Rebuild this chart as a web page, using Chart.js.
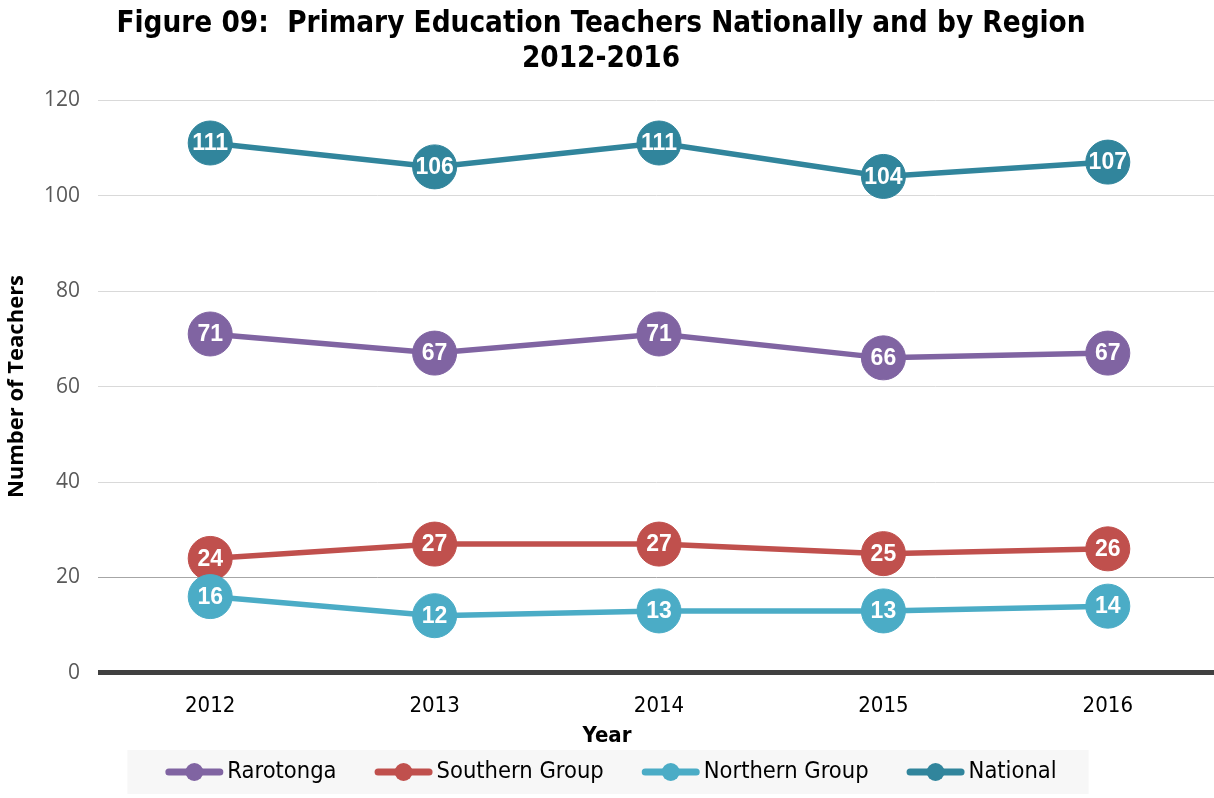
<!DOCTYPE html>
<html>
<head>
<meta charset="utf-8">
<script src="https://cdn.jsdelivr.net/npm/chart.js@4"></script>
<style>
html,body{margin:0;padding:0;background:#fff;}
#wrap{width:1214px;height:798px;}
</style>
</head>
<body>
<div id="wrap"><canvas id="c" width="1214" height="798"></canvas></div>
<script>
const titleLines = ["Figure 09:  Primary Education Teachers Nationally and by Region", "2012-2016"];
const years = ["2012", "2013", "2014", "2015", "2016"];
const seriesNames = ["Rarotonga", "Southern Group", "Northern Group", "National"];
const rarotonga = [71, 67, 71, 66, 67];
const southern = [24, 27, 27, 25, 26];
const northern = [16, 12, 13, 13, 14];
const national = [111, 106, 111, 104, 107];
const seriesColors = ["#8064A2", "#C0504D", "#4BACC6", "#31859C"];
const yTitle = "Number of Teachers";
const xTitle = "Year";

const condFont = '"DejaVu Sans Condensed", "DejaVu Sans", sans-serif';
const openFont = '"Open Sans", sans-serif';
const labelFont = '"Liberation Sans", Arial, sans-serif';

const seriesValues = [rarotonga, southern, northern, national];

// The plot area of the original runs a few pixels past the right edge of the picture.
const plotOverflowRight = 6;

const extendAreaPlugin = {
  id: 'extendArea',
  afterLayout(chart) {
    const area = chart.chartArea;
    const xs = chart.scales.x;
    const newRight = chart.width + plotOverflowRight;
    area.right = newRight;
    area.width = newRight - area.left;
    xs.right = newRight;
    xs.width = newRight - xs.left;
    xs.configure();
    // centre the x-axis title on the whole picture, as in the original
    if (!xs._origDrawTitle) {
      xs._origDrawTitle = xs.drawTitle;
      xs.drawTitle = function () {
        const l = this.left, r = this.right;
        this.left = 0; this.right = chart.width;
        this._origDrawTitle();
        this.left = l; this.right = r;
      };
    }
  }
};

const dataLabelPlugin = {
  id: 'dataLabels',
  afterDatasetDraw(chart, args) {
    const ctx = chart.ctx;
    const meta = args.meta;
    const ds = chart.data.datasets[args.index];
    ctx.save();
    ctx.font = 'bold 23px ' + labelFont;
    ctx.fillStyle = '#ffffff';
    ctx.textAlign = 'center';
    ctx.textBaseline = 'middle';
    meta.data.forEach((pt, i) => {
      ctx.fillText(String(ds.data[i]), pt.x, pt.y + 1);
    });
    ctx.restore();
  }
};

const legendPlugin = {
  id: 'customLegend',
  afterDraw(chart) {
    const ctx = chart.ctx;
    const markerW = 58, gap = 4, spacing = 38, cy = 772;
    ctx.save();
    ctx.font = '23.5px ' + condFont;
    const items = chart.data.datasets.map(ds => ({
      text: ds.label, color: ds.borderColor, w: markerW + gap + ctx.measureText(ds.label).width
    }));
    const total = items.reduce((s, it) => s + it.w, 0) + spacing * (items.length - 1);
    let x = 611 - total / 2;
    ctx.fillStyle = '#F7F7F7';
    ctx.fillRect(x - 38, 750, total + 38 + 32, 44);
    items.forEach(it => {
      ctx.strokeStyle = it.color;
      ctx.lineWidth = 7;
      ctx.lineCap = 'round';
      ctx.beginPath();
      ctx.moveTo(x + 3.5, cy);
      ctx.lineTo(x + markerW - 3.5, cy);
      ctx.stroke();
      ctx.fillStyle = it.color;
      ctx.beginPath();
      ctx.arc(x + markerW / 2, cy, 9, 0, Math.PI * 2);
      ctx.fill();
      ctx.fillStyle = '#000000';
      ctx.textAlign = 'left';
      ctx.textBaseline = 'middle';
      ctx.fillText(it.text, x + markerW + gap, cy);
      x += it.w + spacing;
    });
    ctx.restore();
  }
};

const datasets = seriesNames.map((name, i) => ({
  label: name,
  data: seriesValues[i],
  borderColor: seriesColors[i],
  backgroundColor: seriesColors[i],
  pointBackgroundColor: seriesColors[i],
  pointBorderColor: seriesColors[i],
  pointRadius: 22,
  pointHoverRadius: 22,
  pointBorderWidth: 1,
  borderWidth: 5.5,
  tension: 0,
  clip: false,
  order: 4 - i
}));

new Chart(document.getElementById('c'), {
  type: 'line',
  data: { labels: years, datasets: datasets },
  plugins: [extendAreaPlugin, dataLabelPlugin, legendPlugin],
  options: {
    responsive: false,
    animation: false,
    events: [],
    layout: { autoPadding: false, padding: { top: 0, left: -18, right: -6, bottom: 0 } },
    plugins: {
      legend: { display: false },
      tooltip: { enabled: false },
      title: {
        display: true,
        text: titleLines,
        color: '#000000',
        font: { family: condFont, size: 29.4, weight: 'bold', lineHeight: 1.22 },
        padding: { top: 6, bottom: 22.3 }
      }
    },
    scales: {
      x: {
        type: 'category',
        offset: true,
        grid: { display: false, drawTicks: false },
        border: { display: false },
        ticks: { color: '#000000', font: { family: condFont, size: 22 }, padding: 20 },
        title: {
          display: true, text: xTitle, color: '#000000',
          font: { family: condFont, size: 22, weight: 'bold' },
          padding: { top: 0, bottom: 49 }
        },
        afterFit(s) { s.height = 125; s.paddingLeft = 0; s.paddingRight = 0; }
      },
      y: {
        min: 0, max: 120,
        ticks: { stepSize: 20, color: '#595959', font: { family: openFont, size: 21 }, padding: 18 },
        grid: {
          drawTicks: false,
          color: c => c.tick && c.tick.value === 0 ? '#404040' : (c.tick && c.tick.value === 20 ? '#A6A6A6' : '#D9D9D9'),
          lineWidth: c => c.tick && c.tick.value === 0 ? 5 : 1
        },
        border: { display: false },
        title: {
          display: true, text: yTitle, color: '#000000',
          font: { family: openFont, size: 22, weight: 'bold' },
          padding: { top: 22, bottom: 0 }
        },
        afterFit(s) { s.width = 116; s.paddingTop = 0; s.paddingBottom = 0; }
      }
    }
  }
});
</script>
</body>
</html>
